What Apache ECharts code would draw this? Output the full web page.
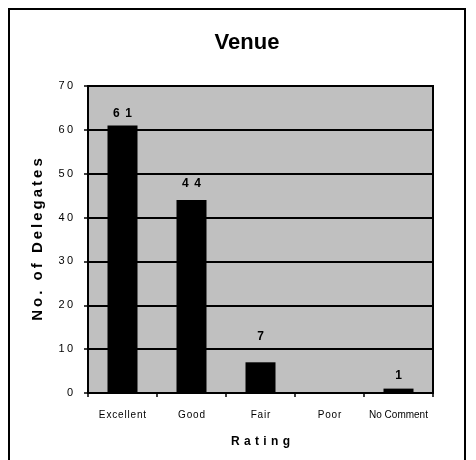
<!DOCTYPE html>
<html>
<head>
<meta charset="utf-8">
<script src="https://cdn.jsdelivr.net/npm/echarts@6/dist/echarts.min.js"></script>
<style>
  html, body { margin: 0; padding: 0; background: #fff; }
  #chart { width: 476px; height: 460px; }
</style>
</head>
<body>
<div id="chart"></div>
<script>
// Venue ratings from the delegate survey
const ratings = ['Excellent', 'Good', 'Fair', 'Poor', 'No Comment'];
const delegates = [61, 44, 7, 0, 1];
const yTicks = { min: 0, max: 70, step: 10 };

// Gap between each value label and the top of its bar (px)
const labelGap = [6, 10, 20, 6, 7];

const FONT = 'Liberation Sans, Arial, sans-serif';
const HAIR = '\u200A', THIN = '\u2009';
// Spread characters apart (old-style spaced lettering)
const spread = (s, sep) => String(s).split('').join(sep);

const chart = echarts.init(document.getElementById('chart'));
chart.setOption({
  animation: false,
  backgroundColor: '#ffffff',
  title: {
    text: 'Venue',
    left: 242,
    textAlign: 'center',
    top: 27,
    textStyle: { fontFamily: FONT, fontWeight: 'bold', fontSize: 22, color: '#000' }
  },
  graphic: [{
    type: 'rect',
    shape: { x: 9, y: 9, width: 456, height: 470 },
    style: { fill: 'none', stroke: '#000', lineWidth: 2 },
    silent: true
  }],
  grid: {
    left: 88, top: 86, width: 345, height: 307,
    show: true, backgroundColor: '#c0c0c0', borderColor: '#000', borderWidth: 2
  },
  xAxis: {
    type: 'category',
    data: ratings,
    name: spread('Rating', ' ' + HAIR),
    nameLocation: 'middle',
    nameGap: 43,
    nameTextStyle: { fontFamily: FONT, fontWeight: 'bold', fontSize: 12, color: '#000' },
    axisLine: { show: true, lineStyle: { color: '#000', width: 2 } },
    axisTick: { show: true, alignWithLabel: false, length: 4, lineStyle: { color: '#000', width: 1.5 } },
    axisLabel: {
      interval: 0, margin: 17, color: '#000', fontSize: 10,
      fontFamily: FONT,
      formatter: (v) => v === 'No Comment' ? v : spread(v, HAIR)
    },
    splitLine: { show: false }
  },
  yAxis: {
    type: 'value',
    min: yTicks.min, max: yTicks.max, interval: yTicks.step,
    name: spread('No. of Delegates', THIN),
    nameLocation: 'middle',
    nameGap: 43,
    nameTextStyle: { fontFamily: FONT, fontWeight: 'bold', fontSize: 15, color: '#000' },
    axisLine: { show: true, lineStyle: { color: '#000', width: 2 } },
    axisTick: { show: true, length: 4, lineStyle: { color: '#000', width: 1.5 } },
    axisLabel: {
      margin: 15, color: '#000', fontSize: 11,
      fontFamily: FONT,
      formatter: (v) => spread(v, THIN)
    },
    splitLine: { show: true, lineStyle: { color: '#000', width: 2 } }
  },
  series: [{
    type: 'bar',
    data: delegates.map((v, i) => ({
      value: v,
      label: { distance: labelGap[i] }
    })),
    barWidth: 30,
    itemStyle: { color: '#000' },
    label: {
      show: true, position: 'top',
      color: '#000', fontWeight: 'bold', fontSize: 12,
      fontFamily: FONT,
      formatter: (p) => p.value === 0 ? '' : spread(p.value, ' ' + THIN)
    }
  }]
});
</script>
</body>
</html>
